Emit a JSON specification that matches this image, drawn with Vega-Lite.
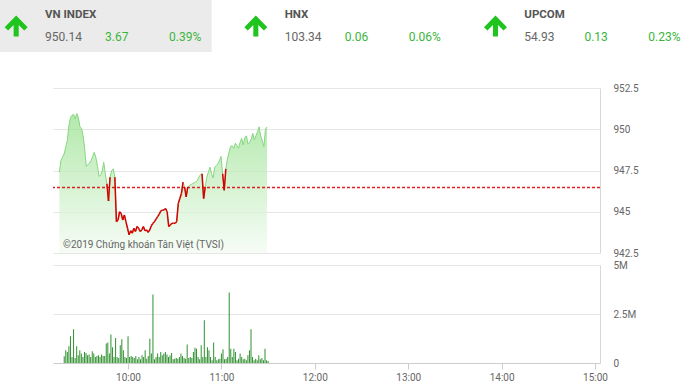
{
  "$schema": "https://vega.github.io/schema/vega-lite/v6.json",
  "padding": 0,
  "background": "white",
  "config": {"font": "Roboto", "view": {"stroke": null}},
  "bounds": "flush",
  "spacing": 36,
  "vconcat": [
    {
      "width": 691,
      "height": 52,
      "data": {"values": [
        {"name": "VN INDEX", "value": 950.14, "change": 3.67, "pct": 0.0039},
        {"name": "HNX", "value": 103.34, "change": 0.06, "pct": 0.0006},
        {"name": "UPCOM", "value": 54.93, "change": 0.13, "pct": 0.0023}
      ]},
      "encoding": {
        "x": {"field": "name", "type": "nominal", "axis": null, "bandPosition": 0,
          "scale": {"domain": ["VN INDEX", "HNX", "UPCOM"], "paddingInner": 0.1167, "paddingOuter": 0}}
      },
      "layer": [
        {
          "transform": [{"filter": "datum.name === 'VN INDEX'"}],
          "mark": {"type": "rect", "color": "#ebebeb"},
          "encoding": {"x": {"field": "name", "type": "nominal", "axis": null}}
        },
        {
          "mark": {"type": "point", "filled": true, "color": "#1fc41f", "opacity": 1, "size": 529,
            "shape": "M0,-0.92 L1,0.1 L0.7,0.4 L0.22,-0.08 L0.22,0.92 L-0.22,0.92 L-0.22,-0.08 L-0.7,0.4 L-1,0.1 Z"},
          "encoding": {"x": {"field": "name", "type": "nominal", "axis": null, "bandPosition": 0.0764}}
        },
        {
          "mark": {"type": "text", "align": "left", "baseline": "alphabetic", "dx": 45, "dy": -8, "fontSize": 11.5, "fontWeight": "bold", "color": "#555555"},
          "encoding": {"text": {"field": "name"}}
        },
        {
          "mark": {"type": "text", "align": "left", "baseline": "alphabetic", "dx": 45, "dy": 14.5, "fontSize": 12, "color": "#666666"},
          "encoding": {"text": {"field": "value", "type": "quantitative", "format": ".2f"}}
        },
        {
          "mark": {"type": "text", "align": "right", "baseline": "alphabetic", "dx": 128.5, "dy": 14.5, "fontSize": 12, "color": "#3ab53a"},
          "encoding": {"text": {"field": "change", "type": "quantitative", "format": ".2f"}}
        },
        {
          "mark": {"type": "text", "align": "left", "baseline": "alphabetic", "dx": 169, "dy": 14.5, "fontSize": 12, "color": "#3ab53a"},
          "encoding": {"text": {"field": "pct", "type": "quantitative", "format": ".2%"}}
        }
      ]
    },
    {
      "bounds": "flush",
      "spacing": 0,
      "hconcat": [
        {"width": 53, "height": 10, "data": {"values": []}, "mark": "point"},
        {
          "bounds": "flush",
          "spacing": 12,
          "data": {"format": {"parse": {"time": "date"}}, "values": [
{"time":"2019-05-21T09:19","price":947.4,"volume":340000},
{"time":"2019-05-21T09:20","price":948.1,"volume":650000},
{"time":"2019-05-21T09:21","price":948.3,"volume":560000},
{"time":"2019-05-21T09:22","price":948.5,"volume":850000},
{"time":"2019-05-21T09:23","price":948.9,"volume":1360000},
{"time":"2019-05-21T09:24","price":949.3,"volume":300000},
{"time":"2019-05-21T09:25","price":950.2,"volume":1720000},
{"time":"2019-05-21T09:26","price":950.7,"volume":260000},
{"time":"2019-05-21T09:27","price":950.85,"volume":850000},
{"time":"2019-05-21T09:28","price":950.9,"volume":400000},
{"time":"2019-05-21T09:29","price":950.65,"volume":650000},
{"time":"2019-05-21T09:30","price":950.95,"volume":480000},
{"time":"2019-05-21T09:31","price":950.7,"volume":310000},
{"time":"2019-05-21T09:32","price":950.15,"volume":560000},
{"time":"2019-05-21T09:33","price":950.05,"volume":510000},
{"time":"2019-05-21T09:34","price":949.6,"volume":390000},
{"time":"2019-05-21T09:35","price":948.8,"volume":430000},
{"time":"2019-05-21T09:36","price":947.75,"volume":310000},
{"time":"2019-05-21T09:37","price":947.85,"volume":600000},
{"time":"2019-05-21T09:38","price":947.95,"volume":480000},
{"time":"2019-05-21T09:39","price":948.1,"volume":310000},
{"time":"2019-05-21T09:40","price":948.35,"volume":360000},
{"time":"2019-05-21T09:41","price":948.6,"volume":390000},
{"time":"2019-05-21T09:42","price":948.3,"volume":310000},
{"time":"2019-05-21T09:43","price":947.8,"volume":430000},
{"time":"2019-05-21T09:44","price":947.15,"volume":360000},
{"time":"2019-05-21T09:45","price":947.2,"volume":360000},
{"time":"2019-05-21T09:46","price":947.45,"volume":990000},
{"time":"2019-05-21T09:47","price":948.0,"volume":1040000},
{"time":"2019-05-21T09:48","price":947.3,"volume":480000},
{"time":"2019-05-21T09:49","price":946.7,"volume":1450000},
{"time":"2019-05-21T09:50","price":945.65,"volume":800000},
{"time":"2019-05-21T09:51","price":947.1,"volume":310000},
{"time":"2019-05-21T09:52","price":947.5,"volume":1280000},
{"time":"2019-05-21T09:53","price":947.6,"volume":310000},
{"time":"2019-05-21T09:54","price":947.1,"volume":260000},
{"time":"2019-05-21T09:55","price":944.4,"volume":900000},
{"time":"2019-05-21T09:56","price":944.5,"volume":1210000},
{"time":"2019-05-21T09:57","price":945.0,"volume":650000},
{"time":"2019-05-21T09:58","price":944.9,"volume":310000},
{"time":"2019-05-21T09:59","price":944.5,"volume":260000},
{"time":"2019-05-21T10:00","price":944.8,"volume":1370000},
{"time":"2019-05-21T10:01","price":944.4,"volume":310000},
{"time":"2019-05-21T10:02","price":944.0,"volume":360000},
{"time":"2019-05-21T10:03","price":943.6,"volume":310000},
{"time":"2019-05-21T10:04","price":943.85,"volume":260000},
{"time":"2019-05-21T10:05","price":943.7,"volume":360000},
{"time":"2019-05-21T10:06","price":944.0,"volume":190000},
{"time":"2019-05-21T10:07","price":943.8,"volume":310000},
{"time":"2019-05-21T10:08","price":944.1,"volume":190000},
{"time":"2019-05-21T10:09","price":944.0,"volume":390000},
{"time":"2019-05-21T10:10","price":943.8,"volume":310000},
{"time":"2019-05-21T10:11","price":943.9,"volume":650000},
{"time":"2019-05-21T10:12","price":944.1,"volume":220000},
{"time":"2019-05-21T10:13","price":943.85,"volume":360000},
{"time":"2019-05-21T10:14","price":943.9,"volume":1240000},
{"time":"2019-05-21T10:15","price":943.75,"volume":480000},
{"time":"2019-05-21T10:16","price":943.9,"volume":3500000},
{"time":"2019-05-21T10:17","price":944.15,"volume":190000},
{"time":"2019-05-21T10:18","price":944.3,"volume":310000},
{"time":"2019-05-21T10:19","price":944.4,"volume":480000},
{"time":"2019-05-21T10:20","price":944.55,"volume":310000},
{"time":"2019-05-21T10:21","price":944.7,"volume":560000},
{"time":"2019-05-21T10:22","price":944.85,"volume":390000},
{"time":"2019-05-21T10:23","price":945.05,"volume":480000},
{"time":"2019-05-21T10:24","price":945.1,"volume":560000},
{"time":"2019-05-21T10:25","price":945.1,"volume":430000},
{"time":"2019-05-21T10:26","price":945.2,"volume":310000},
{"time":"2019-05-21T10:27","price":945.0,"volume":380000},
{"time":"2019-05-21T10:28","price":944.1,"volume":510000},
{"time":"2019-05-21T10:29","price":944.2,"volume":190000},
{"time":"2019-05-21T10:30","price":944.3,"volume":220000},
{"time":"2019-05-21T10:31","price":944.3,"volume":260000},
{"time":"2019-05-21T10:32","price":944.3,"volume":220000},
{"time":"2019-05-21T10:33","price":944.4,"volume":310000},
{"time":"2019-05-21T10:34","price":945.5,"volume":480000},
{"time":"2019-05-21T10:35","price":945.8,"volume":360000},
{"time":"2019-05-21T10:36","price":946.1,"volume":260000},
{"time":"2019-05-21T10:37","price":946.8,"volume":220000},
{"time":"2019-05-21T10:38","price":946.5,"volume":940000},
{"time":"2019-05-21T10:39","price":945.9,"volume":260000},
{"time":"2019-05-21T10:40","price":946.5,"volume":310000},
{"time":"2019-05-21T10:41","price":946.6,"volume":260000},
{"time":"2019-05-21T10:42","price":946.65,"volume":560000},
{"time":"2019-05-21T10:43","price":946.7,"volume":780000},
{"time":"2019-05-21T10:44","price":946.75,"volume":730000},
{"time":"2019-05-21T10:45","price":946.8,"volume":310000},
{"time":"2019-05-21T10:46","price":946.9,"volume":190000},
{"time":"2019-05-21T10:47","price":947.1,"volume":910000},
{"time":"2019-05-21T10:48","price":947.25,"volume":300000},
{"time":"2019-05-21T10:49","price":947.3,"volume":2180000},
{"time":"2019-05-21T10:50","price":945.8,"volume":310000},
{"time":"2019-05-21T10:51","price":946.5,"volume":800000},
{"time":"2019-05-21T10:52","price":947.1,"volume":650000},
{"time":"2019-05-21T10:53","price":947.4,"volume":310000},
{"time":"2019-05-21T10:54","price":947.7,"volume":140000},
{"time":"2019-05-21T10:55","price":947.3,"volume":1040000},
{"time":"2019-05-21T10:56","price":947.05,"volume":310000},
{"time":"2019-05-21T10:57","price":947.7,"volume":140000},
{"time":"2019-05-21T10:58","price":947.8,"volume":190000},
{"time":"2019-05-21T10:59","price":947.9,"volume":220000},
{"time":"2019-05-21T11:00","price":948.1,"volume":480000},
{"time":"2019-05-21T11:01","price":948.35,"volume":700000},
{"time":"2019-05-21T11:02","price":947.3,"volume":190000},
{"time":"2019-05-21T11:03","price":946.3,"volume":220000},
{"time":"2019-05-21T11:04","price":947.6,"volume":300000},
{"time":"2019-05-21T11:05","price":948.2,"volume":3600000},
{"time":"2019-05-21T11:06","price":948.6,"volume":730000},
{"time":"2019-05-21T11:07","price":948.95,"volume":310000},
{"time":"2019-05-21T11:08","price":949.0,"volume":730000},
{"time":"2019-05-21T11:09","price":948.85,"volume":560000},
{"time":"2019-05-21T11:10","price":949.15,"volume":140000},
{"time":"2019-05-21T11:11","price":949.0,"volume":220000},
{"time":"2019-05-21T11:12","price":948.85,"volume":480000},
{"time":"2019-05-21T11:13","price":949.2,"volume":310000},
{"time":"2019-05-21T11:14","price":949.45,"volume":190000},
{"time":"2019-05-21T11:15","price":949.05,"volume":220000},
{"time":"2019-05-21T11:16","price":949.5,"volume":140000},
{"time":"2019-05-21T11:17","price":949.6,"volume":390000},
{"time":"2019-05-21T11:18","price":949.1,"volume":650000},
{"time":"2019-05-21T11:19","price":949.2,"volume":1720000},
{"time":"2019-05-21T11:20","price":949.4,"volume":310000},
{"time":"2019-05-21T11:21","price":949.75,"volume":140000},
{"time":"2019-05-21T11:22","price":949.35,"volume":220000},
{"time":"2019-05-21T11:23","price":949.6,"volume":140000},
{"time":"2019-05-21T11:24","price":949.85,"volume":390000},
{"time":"2019-05-21T11:25","price":950.15,"volume":190000},
{"time":"2019-05-21T11:26","price":949.6,"volume":250000},
{"time":"2019-05-21T11:27","price":949.3,"volume":140000},
{"time":"2019-05-21T11:28","price":948.95,"volume":730000},
{"time":"2019-05-21T11:29","price":950.0,"volume":140000},
{"time":"2019-05-21T11:30","price":950.14,"volume":100000}
          ]},
          "vconcat": [
            {
              "width": 547,
              "height": 165,
              "layer": [
                {
                  "mark": {"type": "area",
                    "color": {"gradient": "linear", "x1": 0, "y1": 0, "x2": 0, "y2": 1,
                      "stops": [{"offset": 0, "color": "#92df88"}, {"offset": 1, "color": "#f3fbf2"}]},
                    "line": {"color": "#86d77f", "strokeWidth": 1}},
                  "encoding": {
                    "x": {"field": "time", "type": "temporal", "axis": null,
                      "scale": {"domain": [{"year": 2019, "month": 5, "date": 21, "hours": 9, "minutes": 15}, {"year": 2019, "month": 5, "date": 21, "hours": 15, "minutes": 0}]}},
                    "y": {"field": "price", "type": "quantitative",
                      "scale": {"domain": [942.5, 952.5], "zero": false, "nice": false},
                      "axis": {"orient": "right", "values": [942.5, 945, 947.5, 950, 952.5], "labelExpr": "format(datum.value, '~f')", "title": null,
                        "grid": true, "gridColor": "#e6e6e6", "ticks": false, "domain": true, "domainColor": "#d8d8d8",
                        "labelPadding": 13, "labelFontSize": 10, "labelColor": "#666666"}},
                    "y2": {"datum": 942.5}
                  }
                },
                {
                  "data": {"values": [{"ref": 946.47}]},
                  "mark": {"type": "rule", "stroke": "#e02020", "color": "#e02020", "strokeDash": [3, 2], "strokeWidth": 1.4, "opacity": 1},
                  "encoding": {"y": {"field": "ref", "type": "quantitative"}}
                },
                {
                  "transform": [
                    {"window": [{"op": "lead", "field": "price", "as": "price2"}, {"op": "lead", "field": "time", "as": "time2"}], "sort": [{"field": "time"}]},
                    {"filter": "datum.price2 != null && min(datum.price, datum.price2) < 946.47"}
                  ],
                  "mark": {"type": "rule", "color": "#d40000", "strokeWidth": 1.5},
                  "encoding": {
                    "x": {"field": "time", "type": "temporal", "axis": null},
                    "x2": {"field": "time2"},
                    "y": {"field": "price", "type": "quantitative"},
                    "y2": {"field": "price2"}
                  }
                },
                {
                  "data": {"values": [{}]},
                  "mark": {"type": "text", "text": "©2019 Chứng khoán Tân Việt (TVSI)", "align": "left", "baseline": "middle", "fontSize": 10, "color": "#666666"},
                  "encoding": {
                    "x": {"datum": {"year": 2019, "month": 5, "date": 21, "hours": 9, "minutes": 21, "seconds": 20}, "type": "temporal", "axis": null},
                    "y": {"datum": 943.0, "type": "quantitative"}
                  }
                }
              ]
            },
            {
              "width": 547,
              "height": 98,
              "mark": {"type": "bar", "width": 1, "color": "#2f912f"},
              "encoding": {
                "x": {"field": "time", "type": "temporal",
                  "scale": {"domain": [{"year": 2019, "month": 5, "date": 21, "hours": 9, "minutes": 15}, {"year": 2019, "month": 5, "date": 21, "hours": 15, "minutes": 0}]},
                  "axis": {"title": null, "format": "%H:%M", "labelFlush": false, "grid": false,
                    "values": [
                      {"year": 2019, "month": 5, "date": 21, "hours": 10},
                      {"year": 2019, "month": 5, "date": 21, "hours": 11},
                      {"year": 2019, "month": 5, "date": 21, "hours": 12},
                      {"year": 2019, "month": 5, "date": 21, "hours": 13},
                      {"year": 2019, "month": 5, "date": 21, "hours": 14},
                      {"year": 2019, "month": 5, "date": 21, "hours": 15}
                    ],
                    "tickSize": 6, "tickColor": "#cccccc", "domainColor": "#cccccc", "labelPadding": 3,
                    "labelFontSize": 10, "labelColor": "#666666"}},
                "y": {"field": "volume", "type": "quantitative",
                  "scale": {"domain": [0, 5000000], "nice": false},
                  "axis": {"orient": "right", "values": [0, 2500000, 5000000], "labelExpr": "datum.value == 0 ? '0' : format(datum.value / 1000000, '~g') + 'M'", "title": null,
                    "grid": true, "gridColor": "#e6e6e6", "ticks": false, "domain": true, "domainColor": "#d8d8d8",
                    "labelPadding": 13, "labelFontSize": 10, "labelColor": "#666666"}}
              }
            }
          ]
        }
      ]
    }
  ]
}
